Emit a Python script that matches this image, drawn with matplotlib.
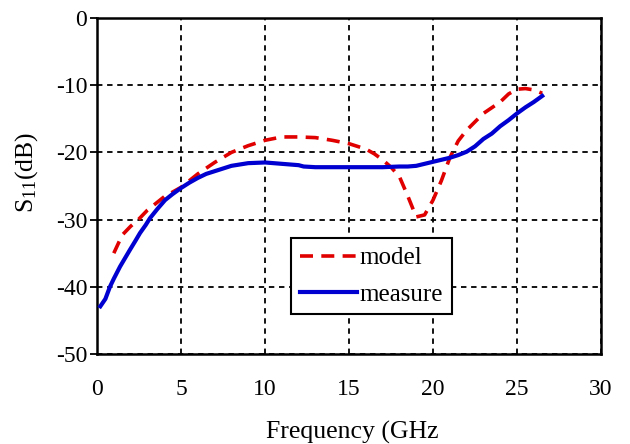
import matplotlib
matplotlib.use("Agg")
import matplotlib.pyplot as plt

plt.rcParams['font.family'] = ['Liberation Serif', 'DejaVu Serif']
plt.rcParams['mathtext.fontset'] = 'custom'
plt.rcParams['mathtext.rm'] = 'Liberation Serif'
plt.rcParams['mathtext.it'] = 'Liberation Serif:italic'
plt.rcParams['axes.unicode_minus'] = False

# measured S11
meas_f = [0.2, 0.5, 0.77, 1.0, 1.37, 1.7, 1.96, 2.3, 2.56, 2.9, 3.15, 3.6, 4.05, 4.5, 5.0, 5.5,
          6.0, 6.5, 7.0, 7.5, 8.0, 9.0, 10.0, 11.0, 12.0, 12.3, 13.0, 14.0, 15.0, 16.0, 17.0,
          18.0, 18.5, 19.0, 19.5, 20.0, 20.5, 21.0, 21.5, 22.0, 22.5, 23.0, 23.5, 24.0, 24.5,
          25.0, 25.5, 26.0, 26.5]
meas_db = [-42.9, -41.8, -40.0, -38.8, -37.0, -35.6, -34.5, -33.1, -32.0, -30.8, -29.8, -28.4,
           -27.1, -26.2, -25.3, -24.5, -23.8, -23.2, -22.8, -22.4, -22.0, -21.6, -21.5, -21.7,
           -21.9, -22.1, -22.2, -22.2, -22.2, -22.2, -22.2, -22.1, -22.1, -22.0, -21.7, -21.4,
           -21.1, -20.8, -20.4, -19.9, -19.1, -18.0, -17.2, -16.1, -15.2, -14.2, -13.3, -12.5,
           -11.6]

# model S11
model_f = [1.0, 1.5, 2.0, 2.5, 3.0, 3.5, 4.0, 5.0, 6.0, 7.0, 8.0, 9.0, 10.0, 11.0, 12.0, 13.0,
           14.0, 15.0, 16.0, 16.5, 17.0, 17.5, 18.0, 18.5, 19.0, 19.5, 20.0, 20.5, 21.0, 21.5,
           22.0, 23.0, 24.0, 24.5, 25.0, 25.5, 26.0, 26.5]
model_db = [-35.0, -32.3, -31.0, -29.9, -28.6, -27.6, -26.6, -25.2, -23.2, -21.5, -20.0, -19.0,
            -18.2, -17.7, -17.7, -17.8, -18.2, -18.7, -19.5, -20.2, -21.1, -22.2, -23.6, -26.5,
            -29.6, -29.3, -27.1, -24.2, -20.8, -18.3, -16.7, -14.2, -12.5, -11.3, -10.6, -10.5,
            -10.7, -11.2]

x_ticks = [0, 5, 10, 15, 20, 25, 30]
y_ticks = [0, -10, -20, -30, -40, -50]

fig = plt.figure(figsize=(6.3, 4.44), dpi=100)
ax = fig.add_axes([97/630, 1 - 354/444, 504/630, 336/444])

ax.plot(model_f, model_db, color='#e00000', lw=2.6, ls=(0, (3.6, 2.3)), label='model', zorder=3)
ax.plot(meas_f, meas_db, color='#0000d0', lw=3.0, label='measure', zorder=4)

ax.set_xlim(0, 30)
ax.set_ylim(-50, 0)
ax.set_xticks(x_ticks)
ax.set_yticks(y_ticks)
ax.tick_params(axis='x', length=0, pad=18, labelsize=17)
ax.tick_params(axis='y', direction='out', length=5, width=1.3, pad=2, labelsize=17)
ax.grid(True, color='black', ls=(0, (3.0, 2.6)), lw=1.3)
ax.set_axisbelow(True)
for sp in ax.spines.values():
    sp.set_linewidth(1.8)

ax.set_xlabel('Frequency (GHz', fontsize=18.5)
ax.xaxis.set_label_coords(0.506, -0.198)
ax.set_ylabel(r'S$_{11}$(dB)', fontsize=18.5)
ax.yaxis.set_label_coords(-0.113, 0.54)

leg = ax.legend(loc='upper left', bbox_to_anchor=(0.385, 0.345), borderaxespad=0,
                fontsize=18, frameon=True, fancybox=False, edgecolor='black',
                framealpha=1, handlelength=2.3, handletextpad=0.1, borderpad=0.35,
                labelspacing=0.55)
leg.get_frame().set_linewidth(1.5)

fig.savefig('out.png', dpi=100)
